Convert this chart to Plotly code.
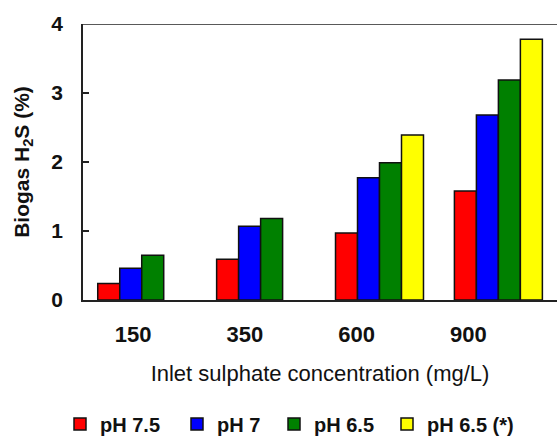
import plotly.graph_objects as go

categories = ["150", "350", "600", "900"]
series_names = ["pH 7.5", "pH 7", "pH 6.5", "pH 6.5 (*)"]
ph75 = [0.24, 0.59, 0.97, 1.58]
ph7 = [0.46, 1.07, 1.77, 2.68]
ph65 = [0.65, 1.18, 1.99, 3.19]
ph65_star = [None, None, 2.39, 3.78]
colors = ["#FF0000", "#0000FF", "#008000", "#FFFF00"]

FONT = "Liberation Sans, Arial, sans-serif"
xidx = list(range(len(categories)))
legend_ids = ["legend", "legend2", "legend3", "legend4"]
legend_left_px = [60, 177, 274, 387]

fig = go.Figure()
for name, vals, col, lg in zip(series_names, [ph75, ph7, ph65, ph65_star], colors, legend_ids):
    fig.add_trace(go.Bar(
        x=xidx, y=vals, name=name, legend=lg,
        marker=dict(color=col, line=dict(color="#111", width=1.5)),
    ))

# tick label placement (layout only)
tick_pos = [-0.073 + 0.94 * i for i in xidx]

legend_style = dict(
    orientation="h", xref="container", yref="container",
    xanchor="left", y=1 - 424 / 437, yanchor="middle",
    font=dict(size=20, family=FONT, weight="bold"),
    itemwidth=30, bgcolor="rgba(0,0,0,0)",
)
legends = {}
for lg, px in zip(legend_ids, legend_left_px):
    legends[lg] = dict(legend_style, x=px / 557)

fig.update_layout(
    width=557, height=437,
    margin=dict(l=83, r=0, t=24, b=137),
    paper_bgcolor="white", plot_bgcolor="white",
    barmode="group", bargap=0.26, bargroupgap=0,
    font=dict(family=FONT, color="#111"),
    showlegend=True,
    xaxis=dict(
        range=[-0.494, 3.493], automargin=False,
        tickmode="array", tickvals=tick_pos, ticktext=categories,
        ticks="", showgrid=False, zeroline=False,
        showline=True, linecolor="#222", linewidth=1.5,
        tickfont=dict(size=22, family=FONT, weight="bold"),
        ticklabelstandoff=14,
        title=dict(text="Inlet sulphate concentration (mg/L)",
                   font=dict(size=22, family=FONT), standoff=19),
    ),
    yaxis=dict(
        range=[0, 4], dtick=1, tick0=0, automargin=False,
        ticks="inside", ticklen=6, tickwidth=1.5, tickcolor="#222",
        showgrid=False, zeroline=False,
        showline=True, linecolor="#222", linewidth=1.5,
        tickfont=dict(size=21, family=FONT, weight="bold"),
        ticklabelstandoff=14,
        title=dict(text="Biogas H<sub>2</sub>S (%)",
                   font=dict(size=21, family=FONT, weight="bold"), standoff=16),
    ),
    **legends,
)

fig.add_shape(type="line", xref="paper", yref="y", x0=0, x1=1, y0=4, y1=4,
              line=dict(color="#222", width=1.5))

fig.write_html("out.html", config={"displayModeBar": False},
               post_script="document.body.style.margin='0';document.body.style.overflow='hidden';")
